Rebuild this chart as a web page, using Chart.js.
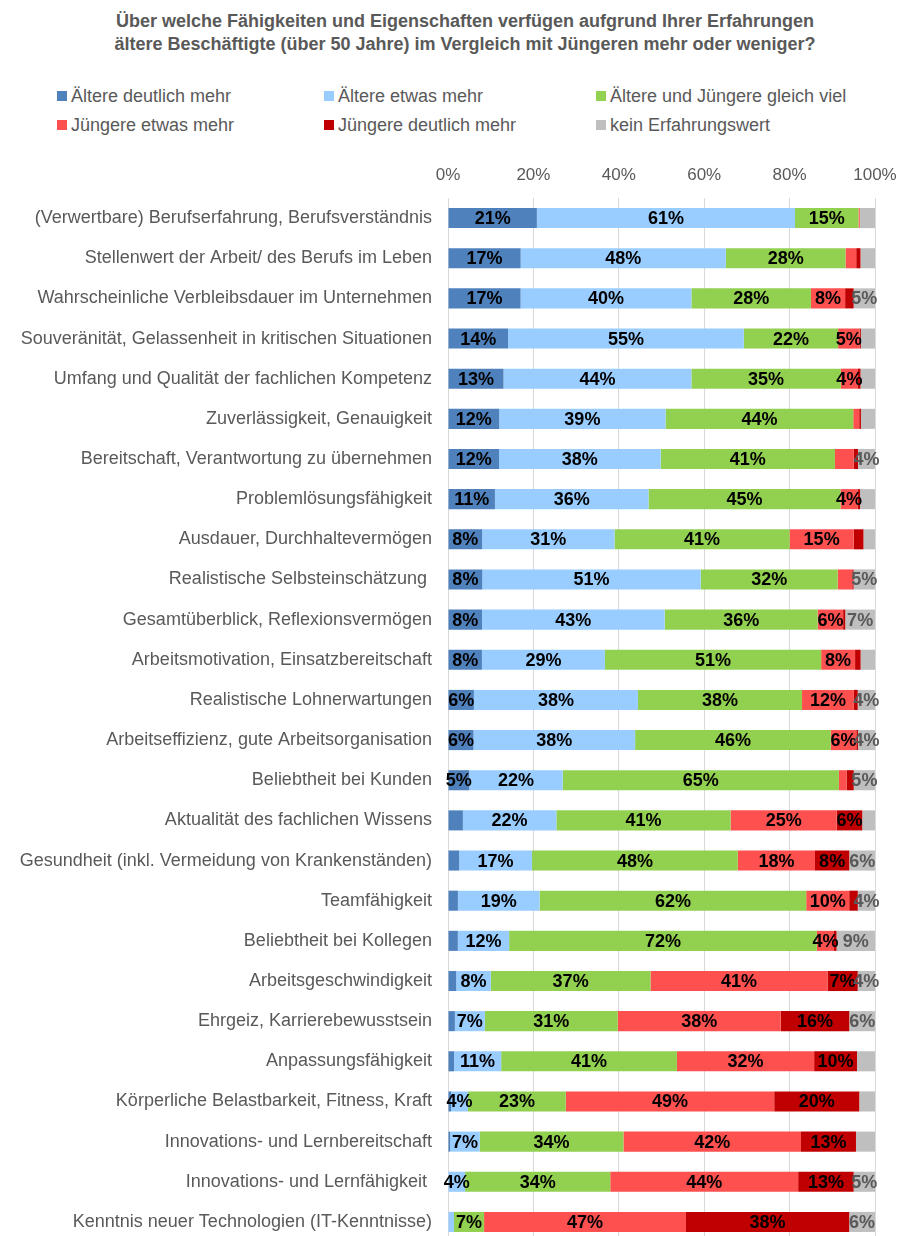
<!DOCTYPE html>
<html>
<head>
<meta charset="utf-8">
<script src="https://cdn.jsdelivr.net/npm/chart.js@4"></script>
<style>
  html, body { margin: 0; padding: 0; width: 905px; height: 1236px; overflow: hidden; background: #fff; }
  body { position: relative; font-family: "Liberation Sans", Arial, sans-serif; color: #595959; }
  #title { position: absolute; left: 0; top: 10px; width: 930px; text-align: center; font-weight: bold; font-size: 18px; line-height: 23px; }
  .leg { position: absolute; font-size: 18px; line-height: 20px; white-space: nowrap; }
  .leg i { display: inline-block; width: 10px; height: 10px; margin-right: 4px; vertical-align: 1px; }
  #wrap { position: absolute; left: 0; top: 150px; width: 905px; height: 1092px; }
  #chart { display: block; }
</style>
</head>
<body>
<div id="title">Über welche Fähigkeiten und Eigenschaften verfügen aufgrund Ihrer Erfahrungen<br>ältere Beschäftigte (über 50 Jahre) im Vergleich mit Jüngeren mehr oder weniger?</div>
<div id="legend"></div>
<div id="wrap"><canvas id="chart" width="905" height="1092"></canvas></div>
<script>
// Data
const categories = [
  '(Verwertbare) Berufserfahrung, Berufsverständnis',
  'Stellenwert der Arbeit/ des Berufs im Leben',
  'Wahrscheinliche Verbleibsdauer im Unternehmen',
  'Souveränität, Gelassenheit in kritischen Situationen',
  'Umfang und Qualität der fachlichen Kompetenz',
  'Zuverlässigkeit, Genauigkeit',
  'Bereitschaft, Verantwortung zu übernehmen',
  'Problemlösungsfähigkeit',
  'Ausdauer, Durchhaltevermögen',
  'Realistische Selbsteinschätzung ',
  'Gesamtüberblick, Reflexionsvermögen',
  'Arbeitsmotivation, Einsatzbereitschaft',
  'Realistische Lohnerwartungen',
  'Arbeitseffizienz, gute Arbeitsorganisation',
  'Beliebtheit bei Kunden',
  'Aktualität des fachlichen Wissens',
  'Gesundheit (inkl. Vermeidung von Krankenständen)',
  'Teamfähigkeit',
  'Beliebtheit bei Kollegen',
  'Arbeitsgeschwindigkeit',
  'Ehrgeiz, Karrierebewusstsein',
  'Anpassungsfähigkeit',
  'Körperliche Belastbarkeit, Fitness, Kraft',
  'Innovations- und Lernbereitschaft',
  'Innovations- und Lernfähigkeit ',
  'Kenntnis neuer Technologien (IT-Kenntnisse)'
];

const aelterDeutlich  = [21, 17, 17, 14, 13, 12, 12, 11, 8, 8, 8, 8, 6, 6, 5, 3.5, 2.6, 2.3, 2.3, 1.9, 1.6, 1.4, 0.7, 0.5, 0, 0];
const aelterEtwas     = [61, 48, 40, 55, 44, 39, 38, 36, 31, 51, 43, 29, 38, 38, 22, 22, 17, 19, 12, 8, 7, 11, 4, 7, 4, 1.4];
const gleichViel      = [15, 28, 28, 22, 35, 44, 41, 45, 41, 32, 36, 51, 38, 46, 65, 41, 48, 62, 72, 37, 31, 41, 23, 34, 34, 7];
const juengerEtwas    = [0.3, 2.5, 8, 5, 4, 1.4, 4.4, 4, 15, 3.4, 6, 8, 12, 6, 1.8, 25, 18, 10, 4, 41, 38, 32, 49, 42, 44, 47];
const juengerDeutlich = [0, 1, 2, 0.3, 0.6, 0.4, 1, 0.6, 2.3, 0.3, 0.5, 1.3, 0.9, 0.4, 1.7, 6, 8, 2, 0.6, 7, 16, 10, 20, 13, 13, 38];
const keinWert        = [3.6, 3.4, 5, 3.3, 3.4, 3.3, 4, 3.5, 2.7, 5, 7, 3.4, 4, 4, 5, 3, 6, 4, 9, 4, 6, 4.2, 3.7, 4.5, 5, 6];

const xTicks = [0, 20, 40, 60, 80, 100];

// labels not shown in the original: [row, series]
const hiddenLabels = [[6, 3], [21, 5], [23, 5]];

const series = [
  { name: 'Ältere deutlich mehr', data: aelterDeutlich, color: '#4f81bd' },
  { name: 'Ältere etwas mehr', data: aelterEtwas, color: '#99ccff' },
  { name: 'Ältere und Jüngere gleich viel', data: gleichViel, color: '#92d050' },
  { name: 'Jüngere etwas mehr', data: juengerEtwas, color: '#ff5050' },
  { name: 'Jüngere deutlich mehr', data: juengerDeutlich, color: '#c00000' },
  { name: 'kein Erfahrungswert', data: keinWert, color: '#bfbfbf' }
];

// Legend (Excel style grid)
const legendPos = [[57, 86], [324, 86], [596, 86], [57, 115], [324, 115], [596, 115]];
const legendEl = document.getElementById('legend');
series.forEach((s, i) => {
  const d = document.createElement('div');
  d.className = 'leg';
  d.style.left = legendPos[i][0] + 'px';
  d.style.top = legendPos[i][1] + 'px';
  d.innerHTML = `<i style="background:${s.color}"></i>${s.name}`;
  legendEl.appendChild(d);
});

// 100% stacked: scale each row to its sum
const rowSums = categories.map((c, i) => series.reduce((t, s) => t + s.data[i], 0));

const datasets = series.map(s => ({
  label: s.name,
  raw: s.data,
  data: s.data.map((v, i) => v / rowSums[i] * 100),
  backgroundColor: s.color,
  borderWidth: 0,
  barPercentage: 0.5,
  categoryPercentage: 1
}));

const valueLabels = {
  id: 'valueLabels',
  afterDatasetsDraw(chart) {
    const ctx = chart.ctx;
    ctx.save();
    ctx.font = 'bold 18px "Liberation Sans", Arial, sans-serif';
    ctx.textAlign = 'center';
    ctx.textBaseline = 'middle';
    chart.data.datasets.forEach((ds, si) => {
      const meta = chart.getDatasetMeta(si);
      meta.data.forEach((bar, i) => {
        const v = ds.raw[i];
        if (v < 4) return;
        if (hiddenLabels.some(h => h[0] === i && h[1] === si)) return;
        ctx.fillStyle = si === 5 ? '#595959' : '#000';
        ctx.fillText(Math.round(v) + '%', (bar.x + bar.base) / 2, bar.y + 1);
      });
    });
    ctx.restore();
  }
};

// keep tick labels from pushing the plot area inwards
function noPad(axis) {
  axis.paddingTop = 0;
  axis.paddingBottom = 0;
  axis.paddingLeft = 0;
  axis.paddingRight = 0;
}

new Chart(document.getElementById('chart'), {
  type: 'bar',
  data: { labels: categories, datasets },
  plugins: [valueLabels],
  options: {
    indexAxis: 'y',
    responsive: false,
    animation: false,
    layout: { padding: { left: 0, right: 30, top: 0, bottom: 0 } },
    plugins: { legend: { display: false }, tooltip: { enabled: false } },
    scales: {
      x: {
        position: 'top',
        stacked: true,
        min: 0,
        max: 100,
        afterBuildTicks: axis => { axis.ticks = xTicks.map(v => ({ value: v })); },
        afterFit: axis => { axis.height = 48; noPad(axis); },
        grid: { color: '#d9d9d9', lineWidth: 1, drawTicks: false },
        border: { display: false },
        ticks: {
          padding: 12,
          color: '#595959',
          font: { family: '"Liberation Sans", Arial, sans-serif', size: 17 },
          callback: v => v + '%'
        }
      },
      y: {
        stacked: true,
        afterFit: axis => { axis.width = 448; noPad(axis); },
        grid: { display: false, drawTicks: false },
        border: { display: false },
        ticks: {
          autoSkip: false,
          padding: 16,
          color: '#595959',
          font: { family: '"Liberation Sans", Arial, sans-serif', size: 18 }
        }
      }
    }
  }
});
</script>
</body>
</html>
